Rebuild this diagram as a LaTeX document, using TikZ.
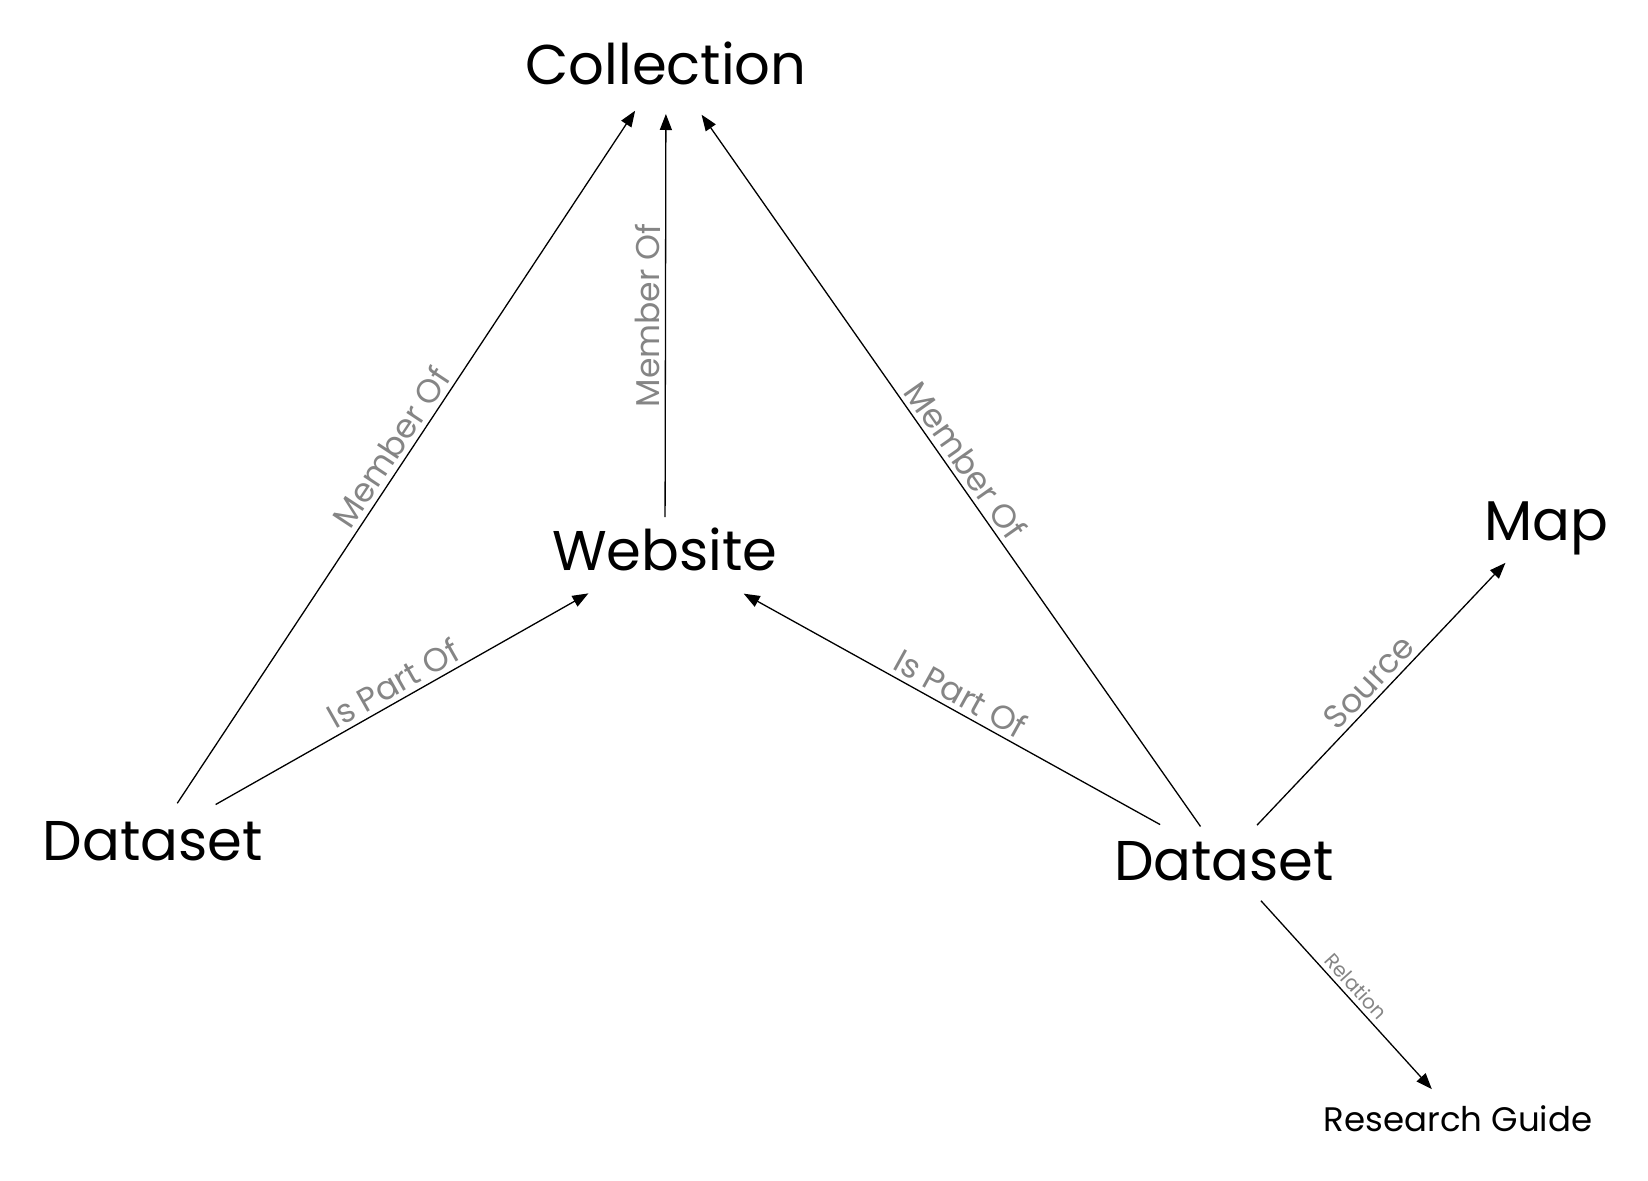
\documentclass[tikz,border=0pt]{standalone}
\usepackage{fontspec}
\setmainfont{Poppins}
\usetikzlibrary{arrows.meta,calc}
\definecolor{lblgray}{HTML}{858585}
\tikzset{
  big/.style={inner sep=0pt, text height=41pt, text depth=0pt, font=\fontsize{56}{60}\selectfont, text=black},
  mid/.style={inner sep=0pt, text height=26pt, text depth=0pt, font=\fontsize{34}{38}\selectfont, text=black},
  conn/.style={line width=1.3pt, -{Triangle[length=16pt,width=12pt]}},
  lbl/.style={midway, sloped, above=5pt, inner sep=0pt, text depth=0pt, text=lblgray, font=\fontsize{33}{36}\selectfont},
  slbl/.style={midway, sloped, above=5pt, inner sep=0pt, text depth=0pt, text=lblgray, font=\fontsize{20}{24}\selectfont}
}
\begin{document}
\begin{tikzpicture}[x=1pt,y=-1pt]
\useasboundingbox (0,0) rectangle (1648,1180);
\node[big] (coll) at (666,64) {Collection};
\node[big] (web) at (665,550) {Website};
\node[big] (ds1) at (153,840) {Dataset};
\node[big] (ds2) at (1224,860) {Dataset};
\node[big] (map) at (1546,520) {Map};
\node[mid] (rg) at (1458,1118) {Research Guide};

\draw[conn] ($(ds1)!44pt!(coll)$) -- node[lbl] (l1) {Member Of} ($(coll)!56pt!(ds1)$);
\draw[conn] ($(web)!33pt!(coll)$) -- node[lbl] (l2) {Member Of} ($(coll)!50pt!(web)$);
\draw[conn] ($(ds2)!41pt!(coll)$) -- node[lbl] (l3) {Member Of} ($(coll)!62pt!(ds2)$);
\draw[conn] ($(ds1)!72pt!(web)$) -- node[lbl] (l4) {Is Part Of} ($(web)!88pt!(ds1)$);
\draw[conn] ($(ds2)!73pt!(web)$) -- node[lbl] (l5) {Is Part Of} ($(web)!90pt!(ds2)$);
\draw[conn] ($(ds2)!48pt!(map)$) -- node[lbl] (l6) {Source} ($(map)!59pt!(ds2)$);
\draw[conn] ($(ds2)!55pt!(rg)$) -- node[slbl] (l7) {Relation} ($(rg)!39pt!(ds2)$);
\end{tikzpicture}
\end{document}
